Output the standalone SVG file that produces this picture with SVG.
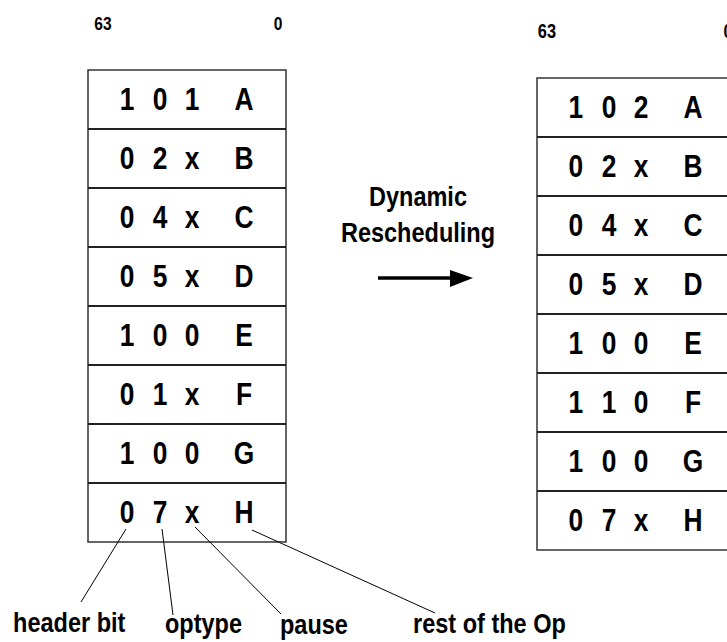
<svg xmlns="http://www.w3.org/2000/svg" width="727" height="642" viewBox="0 0 727 642">
  <style>
    .frame { fill: #fff; stroke: #333; stroke-width: 1.5; }
    .sep { stroke: #222; stroke-width: 2; }
    .cell { font-family: "Liberation Sans", Arial, sans-serif; font-weight: bold; font-size: 31px; fill: #000; text-anchor: middle; }
    .bit { font-family: "Liberation Sans", Arial, sans-serif; font-weight: bold; font-size: 19px; fill: #000; text-anchor: middle; }
    .lbl { font-family: "Liberation Sans", Arial, sans-serif; font-weight: bold; font-size: 28px; fill: #000; }
    .lead { stroke: #000; stroke-width: 1; fill: none; }
  </style>

  <!-- bit-position labels (condensed lettering) -->
  <g id="bits-left" transform="scale(0.82,1)">
    <text class="bit" x="125.6" y="30">63</text>
    <text class="bit" x="339" y="30">0</text>
  </g>
  <g id="bits-right" transform="scale(0.82,1)">
    <text class="bit" x="667" y="38" style="font-size:20px">63</text>
    <text class="bit" x="888" y="38" style="font-size:20px">0</text>
  </g>

  <!-- queue before rescheduling -->
  <g id="queue-before">
    <rect class="frame" x="88" y="70" width="198" height="472"/>
    <g class="sep">
      <line x1="88" y1="129" x2="286" y2="129"/>
      <line x1="88" y1="188" x2="286" y2="188"/>
      <line x1="88" y1="247" x2="286" y2="247"/>
      <line x1="88" y1="306" x2="286" y2="306"/>
      <line x1="88" y1="365" x2="286" y2="365"/>
      <line x1="88" y1="424" x2="286" y2="424"/>
      <line x1="88" y1="483" x2="286" y2="483"/>
    </g>
    <!-- columns at x = 127, 160, 192, 244 after the 0.85 squeeze -->
    <g transform="scale(0.85,1)">
      <text class="cell" y="110.5"><tspan x="149.4">1</tspan><tspan x="188.2">0</tspan><tspan x="225.9">1</tspan><tspan x="287.1">A</tspan></text>
      <text class="cell" y="169.5"><tspan x="149.4">0</tspan><tspan x="188.2">2</tspan><tspan x="225.9">x</tspan><tspan x="287.1">B</tspan></text>
      <text class="cell" y="228.5"><tspan x="149.4">0</tspan><tspan x="188.2">4</tspan><tspan x="225.9">x</tspan><tspan x="287.1">C</tspan></text>
      <text class="cell" y="287.5"><tspan x="149.4">0</tspan><tspan x="188.2">5</tspan><tspan x="225.9">x</tspan><tspan x="287.1">D</tspan></text>
      <text class="cell" y="346.5"><tspan x="149.4">1</tspan><tspan x="188.2">0</tspan><tspan x="225.9">0</tspan><tspan x="287.1">E</tspan></text>
      <text class="cell" y="405.5"><tspan x="149.4">0</tspan><tspan x="188.2">1</tspan><tspan x="225.9">x</tspan><tspan x="287.1">F</tspan></text>
      <text class="cell" y="464.5"><tspan x="149.4">1</tspan><tspan x="188.2">0</tspan><tspan x="225.9">0</tspan><tspan x="287.1">G</tspan></text>
      <text class="cell" y="523.5"><tspan x="149.4">0</tspan><tspan x="188.2">7</tspan><tspan x="225.9">x</tspan><tspan x="287.1">H</tspan></text>
    </g>
  </g>

  <!-- queue after rescheduling -->
  <g id="queue-after">
    <rect class="frame" x="537" y="78" width="198" height="472"/>
    <g class="sep">
      <line x1="537" y1="137" x2="735" y2="137"/>
      <line x1="537" y1="196" x2="735" y2="196"/>
      <line x1="537" y1="255" x2="735" y2="255"/>
      <line x1="537" y1="314" x2="735" y2="314"/>
      <line x1="537" y1="373" x2="735" y2="373"/>
      <line x1="537" y1="432" x2="735" y2="432"/>
      <line x1="537" y1="491" x2="735" y2="491"/>
    </g>
    <!-- columns at x = 576, 609, 641, 693 after the 0.85 squeeze -->
    <g transform="scale(0.85,1)">
      <text class="cell" y="118.5"><tspan x="677.6">1</tspan><tspan x="716.5">0</tspan><tspan x="754.1">2</tspan><tspan x="815.3">A</tspan></text>
      <text class="cell" y="177.5"><tspan x="677.6">0</tspan><tspan x="716.5">2</tspan><tspan x="754.1">x</tspan><tspan x="815.3">B</tspan></text>
      <text class="cell" y="236.5"><tspan x="677.6">0</tspan><tspan x="716.5">4</tspan><tspan x="754.1">x</tspan><tspan x="815.3">C</tspan></text>
      <text class="cell" y="295.5"><tspan x="677.6">0</tspan><tspan x="716.5">5</tspan><tspan x="754.1">x</tspan><tspan x="815.3">D</tspan></text>
      <text class="cell" y="354.5"><tspan x="677.6">1</tspan><tspan x="716.5">0</tspan><tspan x="754.1">0</tspan><tspan x="815.3">E</tspan></text>
      <text class="cell" y="413.5"><tspan x="677.6">1</tspan><tspan x="716.5">1</tspan><tspan x="754.1">0</tspan><tspan x="815.3">F</tspan></text>
      <text class="cell" y="472.5"><tspan x="677.6">1</tspan><tspan x="716.5">0</tspan><tspan x="754.1">0</tspan><tspan x="815.3">G</tspan></text>
      <text class="cell" y="531.5"><tspan x="677.6">0</tspan><tspan x="716.5">7</tspan><tspan x="754.1">x</tspan><tspan x="815.3">H</tspan></text>
    </g>
  </g>

  <!-- transition caption and arrow -->
  <g id="transition">
    <g transform="scale(0.84,1)">
      <text class="lbl" x="497.6" y="206" text-anchor="middle">Dynamic</text>
      <text class="lbl" x="497.6" y="242" text-anchor="middle">Rescheduling</text>
    </g>
    <line x1="378" y1="278" x2="452" y2="278" stroke="#000" stroke-width="3.5"/>
    <polygon points="450,270 473,278 450,287" fill="#000"/>
  </g>

  <!-- field callout leaders -->
  <g id="connectors">
    <line class="lead" x1="126" y1="529" x2="81" y2="602"/>
    <line class="lead" x1="162" y1="529" x2="173" y2="615"/>
    <line class="lead" x1="195" y1="527" x2="281" y2="614"/>
    <line class="lead" x1="252" y1="530" x2="435" y2="613"/>
  </g>

  <!-- field names -->
  <g id="field-labels" transform="scale(0.84,1)">
    <text class="lbl" x="15.5" y="632">header bit</text>
    <text class="lbl" x="196.4" y="633">optype</text>
    <text class="lbl" x="333.3" y="634">pause</text>
    <text class="lbl" x="491.7" y="633">rest of the Op</text>
  </g>
</svg>
